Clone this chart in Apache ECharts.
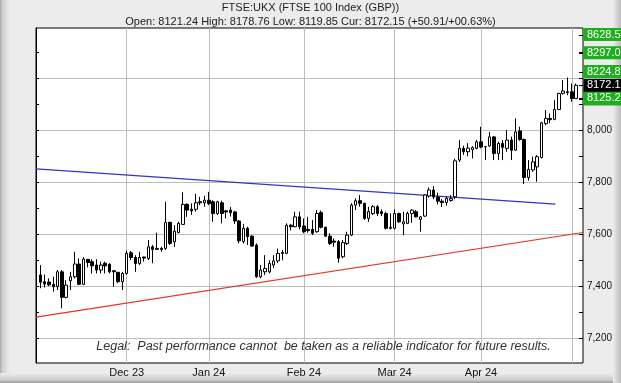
<!DOCTYPE html>
<html><head><meta charset="utf-8">
<script src="https://cdn.jsdelivr.net/npm/echarts@6/dist/echarts.min.js"></script>
<style>html,body{margin:0;padding:0;background:#ececec}#c{width:621px;height:383px}</style>
</head><body><div id="c"></div>
<script>
// ---- data (FTSE 100 daily candles) ----
const dates = [
'2023-11-03','2023-11-06','2023-11-07','2023-11-08','2023-11-09','2023-11-10','2023-11-13','2023-11-14','2023-11-15','2023-11-16',
'2023-11-17','2023-11-20','2023-11-21','2023-11-22','2023-11-23','2023-11-24','2023-11-27','2023-11-28','2023-11-29','2023-11-30',
'2023-12-01','2023-12-04','2023-12-05','2023-12-06','2023-12-07','2023-12-08','2023-12-11','2023-12-12','2023-12-13','2023-12-14',
'2023-12-15','2023-12-18','2023-12-19','2023-12-20','2023-12-21','2023-12-22','2023-12-27','2023-12-28','2023-12-29',
'2024-01-02','2024-01-03','2024-01-04','2024-01-05','2024-01-08','2024-01-09','2024-01-10','2024-01-11','2024-01-12','2024-01-15',
'2024-01-16','2024-01-17','2024-01-18','2024-01-19','2024-01-22','2024-01-23','2024-01-24','2024-01-25','2024-01-26','2024-01-29',
'2024-01-30','2024-01-31',
'2024-02-01','2024-02-02','2024-02-05','2024-02-06','2024-02-07','2024-02-08','2024-02-09','2024-02-12','2024-02-13','2024-02-14',
'2024-02-15','2024-02-16','2024-02-19','2024-02-20','2024-02-21','2024-02-22','2024-02-23','2024-02-26','2024-02-27','2024-02-28',
'2024-02-29',
'2024-03-01','2024-03-04','2024-03-05','2024-03-06','2024-03-07','2024-03-08','2024-03-11','2024-03-12','2024-03-13','2024-03-14',
'2024-03-15','2024-03-18','2024-03-19','2024-03-20','2024-03-21','2024-03-22','2024-03-25','2024-03-26','2024-03-27','2024-03-28',
'2024-04-02','2024-04-03','2024-04-04','2024-04-05','2024-04-08','2024-04-09','2024-04-10','2024-04-11','2024-04-12','2024-04-15',
'2024-04-16','2024-04-17','2024-04-18','2024-04-19','2024-04-22','2024-04-23','2024-04-24','2024-04-25','2024-04-26','2024-04-29',
'2024-04-30','2024-05-01','2024-05-02'];
const opens = [
7444,7418,7417,7408,7399,7456,7358,7422,7437,7486, 7408,7504,7495,7482,7463,7489,7485,7460,7454,7418,
7450,7529,7511,7488,7513,7507,7552,7542,7546,7546, 7646,7571,7607,7638,7715,7696,7696,7725,7721,
7731,7725,7680,7721,7690,7693,7686,7651,7572,7623, 7593,7559,7437,7456,7456,7482,7498,7530,7527,7635,
7629,7667,
7632,7619,7619,7610,7684,7627,7593,7574,7572,7514, 7565,7597,7712,7729,7719,7661,7680,7706,7687,7680,
7623,
7623,7680,7640,7642,7680,7687,7657,7670,7747,7770, 7743,7727,7722,7730,7744,7885,7930,7917,7925,7930,
7955,7936,7939,7974,7910,7949,7930,7962,7923,7997, 7964,7818,7847,7859,7895,8025,8045,8041,8079,8141,
8147,8147,8121.24];
const closes = [
7416,7409,7406,7399,7456,7358,7405,7437,7486,7408, 7505,7492,7479,7463,7482,7479,7456,7456,7418,7450,
7527,7511,7488,7511,7509,7552,7542,7546,7542,7646, 7565,7612,7642,7715,7693,7690,7721,7721,7731,
7718,7680,7725,7680,7686,7683,7651,7575,7623,7591, 7555,7437,7463,7469,7488,7498,7527,7527,7635,7629,
7667,7629,
7610,7614,7604,7680,7627,7593,7565,7570,7508,7568, 7597,7712,7729,7719,7661,7687,7706,7680,7680,7623,
7627,
7680,7648,7648,7680,7693,7667,7667,7751,7770,7743, 7727,7722,7738,7737,7882,7930,7917,7931,7933,7955,
7935,7937,7974,7910,7949,7934,7962,7923,7993,7964, 7818,7849,7878,7898,8028,8045,8040,8079,8141,8150,
8144,8121,8172.15];
const lows = [
7393,7396,7401,7380,7386,7316,7354,7386,7431,7405, 7405,7473,7450,7450,7450,7450,7450,7399,7412,7386,
7444,7501,7456,7482,7495,7501,7489,7540,7533,7540, 7559,7552,7604,7636,7667,7674,7687,7712,7706,
7712,7648,7674,7642,7661,7668,7640,7565,7565,7559, 7552,7433,7431,7444,7450,7470,7490,7500,7524,7615,
7627,7619,
7604,7606,7597,7606,7623,7591,7559,7552,7491,7508, 7559,7593,7693,7706,7655,7648,7674,7670,7670,7619,
7619,
7619,7644,7597,7639,7644,7665,7610,7667,7740,7735, 7715,7705,7710,7725,7735,7878,7905,7900,7891,7926,
7930,7885,7936,7885,7885,7885,7917,7885,7921,7959, 7793,7806,7840,7802,7891,8019,8026,8038,8077,8137,
8134,8109,8119.85];
const highs = [
7482,7446,7431,7437,7463,7463,7424,7456,7533,7508, 7512,7505,7504,7504,7495,7495,7489,7463,7456,7456,
7537,7536,7520,7533,7514,7578,7559,7606,7552,7725, 7648,7635,7648,7761,7719,7719,7755,7744,7748,
7763,7731,7729,7729,7693,7705,7690,7655,7640,7629, 7597,7565,7482,7520,7501,7520,7545,7540,7642,7640,
7687,7687,
7661,7667,7655,7693,7691,7629,7604,7584,7578,7578, 7610,7719,7738,7751,7721,7706,7712,7712,7696,7687,
7680,
7696,7683,7687,7687,7696,7693,7670,7754,7780,7785, 7760,7735,7745,7750,7890,7962,7940,7950,7938,7962,
8013,7939,7993,7977,7955,7962,8000,7975,8045,8013, 7968,7885,7898,7904,8032,8077,8064,8115,8143,8192,
8202,8179,8178.76];

const monthLabels = ['Dec 23','Jan 24','Feb 24','Mar 24','Apr 24',''];
const yTickLabels = [7200,7400,7600,7800,8000];
const yGridValues = [7200,7400,7600,7800,8000,8200];
const yMinorTicks = [7200,7300,7400,7500,7600,7700,7800,7900,8000,8100,8200,8300];
const trendBlue = [[0,7851],[120.2,7716]];
const trendRed = [[0,7282],[126.6,7607]];
const tagValues = [8628.5, 8297.0, 8224.8, 8119.8, 8125.2, 8172.1];
const tagTexts  = ['8628.5','8297.0','8224.8','8119.8','8125.2','8172.1'];
const tagKinds  = ['g','g','g','g','g','k'];
const titleText = 'FTSE:UKX (FTSE 100 Index (GBP))';
const subText = 'Open: 8121.24 High: 8178.76 Low: 8119.85 Cur: 8172.15 (+50.91/+00.63%)';
const legalText = 'Legal:  Past performance cannot  be taken as a reliable indicator for future results.';

// month starts derived from the dates (x = trading-day index)
const monthStartIdx = [];
dates.forEach((d,i)=>{ if(i>0 && d.slice(5,7)!==dates[i-1].slice(5,7)) monthStartIdx.push(i+1); });

const FONT = '"Liberation Sans", Arial, sans-serif';
const chart = echarts.init(document.getElementById('c'), null, {renderer:'canvas', width:621, height:383});
const candleData = dates.map((d,i)=>[i+1, opens[i], closes[i], lows[i], highs[i]]);

const YMIN = 7106, YMAX = 8392;
const baseGraphic = [
  {type:'rect', shape:{x:0,y:0,width:10,height:383}, silent:true, z:-10,
   style:{fill:{type:'linear',x:0,y:0,x2:1,y2:0,colorStops:[{offset:0,color:'#a9a9a9'},{offset:0.25,color:'#cfcfcf'},{offset:1,color:'#ececec'}]}}},
  {type:'rect', shape:{x:0,y:373,width:621,height:10}, silent:true, z:-9,
   style:{fill:{type:'linear',x:0,y:0,x2:0,y2:1,colorStops:[{offset:0,color:'#ececec'},{offset:0.7,color:'#cdcdcd'},{offset:1,color:'#9a9a9a'}]}}},
  {type:'rect', shape:{x:613,y:0,width:8,height:383}, silent:true, z:-9,
   style:{fill:{type:'linear',x:0,y:0,x2:1,y2:0,colorStops:[{offset:0,color:'#ececec'},{offset:1,color:'#bcbcbc'}]}}},
  {type:'text', x:310.5, y:8, silent:true, z:50,
   style:{text:titleText, fill:'#222', font:'11px '+FONT, textAlign:'center', textVerticalAlign:'middle'}},
  {type:'text', x:310.5, y:22, silent:true, z:50,
   style:{text:subText, fill:'#222', font:'11px '+FONT, textAlign:'center', textVerticalAlign:'middle'}},
  {type:'text', x:323.5, y:347, silent:true, z:50,
   style:{text:legalText, fill:'#333', font:'italic 12.5px '+FONT, textAlign:'center', textVerticalAlign:'middle'}}
];

const option = {
  backgroundColor:'#ececec',
  animation:false,
  grid:{left:36, right:38, top:28, bottom:20, show:true, backgroundColor:'#fff', borderColor:'#000', borderWidth:1},
  xAxis:{
    type:'value', min:0, max:126.6,
    axisLine:{show:false},
    axisTick:{show:false, customValues:monthStartIdx},
    axisLabel:{customValues:monthStartIdx.slice(0,5), margin:4, fontSize:11, color:'#111', fontFamily:FONT,
      formatter:(v)=>monthLabels[monthStartIdx.indexOf(v)] || ''},
    splitLine:{show:true, lineStyle:{color:'#bdbdbd', width:1}}
  },
  yAxis:[
    {type:'value', position:'right', min:YMIN, max:YMAX,
     axisLine:{show:true, lineStyle:{color:'#000', width:1}},
     axisTick:{show:false, customValues:yGridValues},
     axisLabel:{customValues:yTickLabels, margin:4, fontSize:10, color:'#111', fontFamily:FONT},
     splitLine:{show:true, lineStyle:{color:'#bdbdbd', width:1}}},
    {type:'value', position:'right', min:YMIN, max:YMAX,
     axisLine:{show:false},
     axisTick:{show:true, inside:true, length:4, customValues:yMinorTicks, lineStyle:{color:'#000'}},
     axisLabel:{show:false}, splitLine:{show:false}},
    {type:'value', position:'left', min:YMIN, max:YMAX,
     axisLine:{show:false},
     axisTick:{show:true, inside:true, length:3, customValues:yMinorTicks, lineStyle:{color:'#000'}},
     axisLabel:{show:false}, splitLine:{show:false}}
  ],
  series:[
    {type:'line', data:trendBlue, showSymbol:false, silent:true, z:3,
     lineStyle:{color:'#3434c4', width:1.2}},
    {type:'line', data:trendRed, showSymbol:false, silent:true, z:3,
     lineStyle:{color:'#e5342a', width:1.2}},
    {type:'candlestick', data:candleData, encode:{x:0, y:[1,2,3,4]}, barWidth:3, silent:true, z:4,
     itemStyle:{color:'#fff', color0:'#000', borderColor:'#000', borderColor0:'#000', borderWidth:1}}
  ],
  graphic:{elements:baseGraphic}
};
chart.setOption(option);

// price tags on the right axis, placed through the y axis scale; later tags sit on top
const gTop = 28, gBottom = 363, TAG_H = 13;
const tagEls = [];
tagValues.forEach((v,i)=>{
  let y = chart.convertToPixel({yAxisIndex:0}, v);
  y = Math.max(gTop + TAG_H/2, Math.min(gBottom - TAG_H/2, y));
  const fill = tagKinds[i]==='k' ? '#000' : '#1fae1f';
  const zb = 60 + i*3;
  tagEls.push({type:'line', shape:{x1:579, y1:Math.round(y)+0.5, x2:583, y2:Math.round(y)+0.5}, silent:true, z:zb, style:{stroke:'#000', lineWidth:1}});
  tagEls.push({type:'rect', shape:{x:583.5, y:y-TAG_H/2, width:40, height:TAG_H}, silent:true, z:zb+1, style:{fill:fill}});
  tagEls.push({type:'text', x:587, y:y, silent:true, z:zb+2,
    style:{text:tagTexts[i], fill:'#fff', font:'11px '+FONT, textVerticalAlign:'middle'}});
});
chart.setOption({graphic:{elements:baseGraphic.concat(tagEls)}});
</script>
</body></html>
